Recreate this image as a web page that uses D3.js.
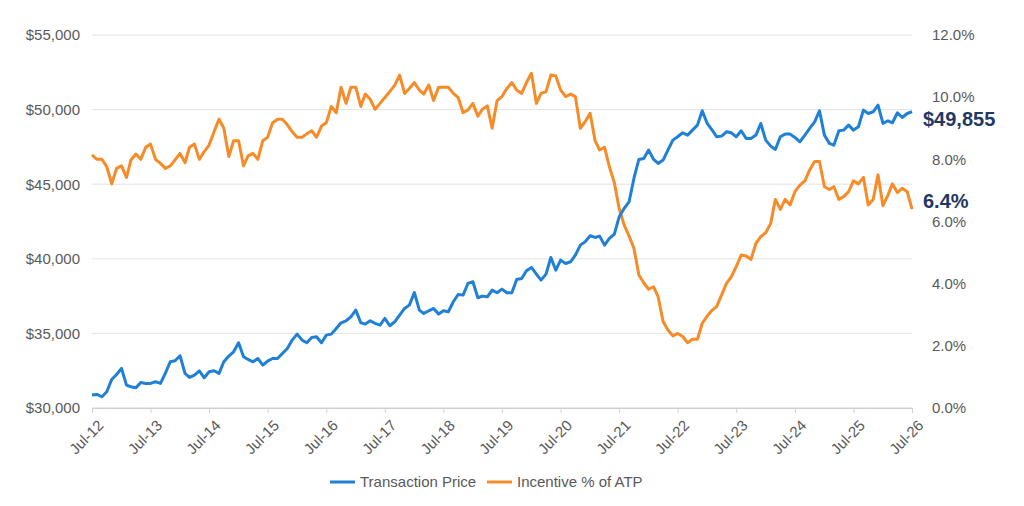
<!DOCTYPE html>
<html>
<head>
<meta charset="utf-8">
<script src="https://cdn.jsdelivr.net/npm/d3@7"></script>
<style>
body { margin: 0; background: #fff; }
text { font-family: Arial, "Liberation Sans", sans-serif; }
</style>
</head>
<body>
<script>
// monthly series, Jul-2012 .. Jul-2026
var atp = [30864,30909,30753,31088,31915,32250,32652,31535,31423,31356,31714,31646,31646,31758,31646,32316,33098,33165,33500,32316,
    32048,32205,32495,32026,32428,32495,32316,33098,33478,33769,34372,33433,33255,33098,33321,32875,33143,33321,33321,33657,
    33992,34550,34952,34550,34372,34729,34774,34372,34885,34952,35332,35712,35846,36114,36561,35712,35623,35846,35668,
    35555,36003,35511,35779,36226,36673,36896,37745,36561,36338,36516,36673,36293,36516,36449,37119,37610,37566,38348,38460,
    37388,37499,37455,37901,37722,37968,37722,37722,38616,38683,39197,39421,38973,38572,38973,40091,39241,39911,39688,39800,
    40247,40917,41141,41543,41431,41521,40917,41364,41655,42816,43375,43822,45385,46659,46726,47284,46659,46391,
    46614,47284,47954,48178,48446,48290,48625,48960,49920,49071,48625,48178,48223,48513,48446,48178,48580,48066,48066,48290,
    49071,47954,47552,47329,48178,48357,48357,48133,47843,48290,48736,49183,49920,48290,47731,47619,48580,48625,48960,48625,
    48848,49965,49741,49853,50300,49071,49250,49116,49786,49473,49741,49855];
var incentive = [8.14,8.00,8.00,7.76,7.21,7.71,7.79,7.42,7.98,8.17,8.00,8.39,8.49,8.00,7.87,7.71,7.79,7.98,8.19,7.89,
    8.39,8.49,8.00,8.25,8.46,8.89,9.29,9.00,8.09,8.60,8.60,7.79,8.11,8.19,8.00,8.60,8.71,9.18,9.29,9.29,
    9.11,8.89,8.71,8.71,8.82,8.92,8.71,9.07,9.18,9.70,9.50,10.32,9.80,10.32,10.32,9.70,10.10,9.93,9.61,
    9.80,9.99,10.18,10.39,10.71,10.12,10.28,10.47,10.23,10.10,10.39,9.89,10.32,10.32,10.32,10.12,9.99,9.50,9.59,9.80,
    9.39,9.61,9.72,9.00,9.89,10.02,10.28,10.47,10.23,10.12,10.47,10.77,9.80,10.12,10.18,10.71,10.68,10.23,10.02,10.10,
    10.02,9.00,9.21,9.48,8.60,8.30,8.39,7.76,7.25,6.42,5.89,5.53,5.14,4.28,4.03,3.82,3.90,3.58,
    2.78,2.51,2.32,2.40,2.30,2.10,2.21,2.21,2.72,2.96,3.15,3.26,3.64,4.01,4.23,4.55,4.92,4.89,4.78,5.30,
    5.51,5.64,5.94,6.71,6.39,6.71,6.53,6.96,7.17,7.31,7.66,7.93,7.93,7.12,7.03,7.12,6.71,6.80,6.96,7.31,
    7.21,7.42,6.53,6.71,7.50,6.51,6.85,7.21,6.93,7.07,6.96,6.4];
var tickYears = [2012, 2013, 2014, 2015, 2016, 2017, 2018, 2019, 2020, 2021, 2022, 2023, 2024, 2025, 2026];
var leftTicks = [30000, 35000, 40000, 45000, 50000, 55000];
var rightTicks = [0, 2, 4, 6, 8, 10, 12];
var seriesNames = ['Transaction Price', 'Incentive % of ATP'];
var colors = ['#1f80d6', '#f68b28'];

var w = 1024, h = 506;
var months = d3.timeMonth.range(new Date(2012, 6, 1), new Date(2012, 6 + atp.length, 1));

var svg = d3.select('body').append('svg').attr('width', w).attr('height', h);

var x = d3.scaleTime().domain([new Date(2012, 6, 1), new Date(2026, 6, 1)]).range([92, 912]);
var yL = d3.scaleLinear().domain([30000, 55000]).range([408, 35]);
var yR = d3.scaleLinear().domain([0, 12]).range([408, 35]);

// gridlines
svg.selectAll('.grid').data(leftTicks).enter().append('line')
    .attr('x1', 92).attr('x2', 912)
    .attr('y1', function(d) { return yL(d); })
    .attr('y2', function(d) { return yL(d); })
    .style('stroke', function(d) { return d === 30000 ? '#d0d0d0' : '#e3e3e3'; })
    .style('stroke-width', 1);

var fmt = d3.format(',');
svg.append('g').attr('transform', 'translate(92,0)')
    .call(d3.axisLeft(yL).tickValues(leftTicks).tickSize(0).tickPadding(12)
        .tickFormat(function(d) { return '$' + fmt(d); }))
    .call(function(g) { g.select('.domain').remove(); });

svg.append('g').attr('transform', 'translate(912,0)')
    .call(d3.axisRight(yR).tickValues(rightTicks).tickSize(0).tickPadding(20)
        .tickFormat(function(d) { return d.toFixed(1) + '%'; }))
    .call(function(g) { g.select('.domain').remove(); });

var xTicks = tickYears.map(function(y) { return new Date(y, 6, 1); });
var xAxis = svg.append('g').attr('transform', 'translate(0,408)')
    .call(d3.axisBottom(x).tickValues(xTicks).tickSize(5).tickFormat(d3.timeFormat('Jul-%y')));
xAxis.select('.domain').style('stroke', '#d0d0d0');
xAxis.selectAll('line').style('stroke', '#d0d0d0');
xAxis.selectAll('text')
    .attr('text-anchor', 'end')
    .attr('dx', '-0.3em').attr('dy', '0.9em')
    .attr('transform', 'rotate(-45)');

svg.selectAll('.tick text').style('font-size', '15px').style('fill', '#595959')
    .style('font-family', 'Arial, "Liberation Sans", sans-serif');

var lineL = d3.line().x(function(d, i) { return x(months[i]); }).y(function(d) { return yL(d); });
var lineR = d3.line().x(function(d, i) { return x(months[i]); }).y(function(d) { return yR(d); });

svg.append('path').datum(incentive).attr('d', lineR)
    .style('fill', 'none').style('stroke', colors[1]).style('stroke-width', 3).style('stroke-linejoin', 'round');
svg.append('path').datum(atp).attr('d', lineL)
    .style('fill', 'none').style('stroke', colors[0]).style('stroke-width', 3).style('stroke-linejoin', 'round');

// end labels
svg.append('text').attr('x', 923).attr('y', yL(atp[atp.length - 1]) + 14)
    .style('font-size', '20px').style('font-weight', 'bold').style('fill', '#1f3864')
    .text('$' + fmt(atp[atp.length - 1]));
svg.append('text').attr('x', 923).attr('y', 208)
    .style('font-size', '20px').style('font-weight', 'bold').style('fill', '#1f3864')
    .text(incentive[incentive.length - 1].toFixed(1) + '%');

// legend
var legendX = [330, 487];
var legend = svg.selectAll('.legend').data(seriesNames).enter().append('g')
    .attr('transform', function(d, i) { return 'translate(' + legendX[i] + ',482)'; });
legend.append('line').attr('x1', 0).attr('x2', 25).attr('y1', 0).attr('y2', 0)
    .style('stroke', function(d, i) { return colors[i]; }).style('stroke-width', 3);
legend.append('text').attr('x', 30).attr('y', 5)
    .style('font-size', '15px').style('fill', '#595959')
    .text(function(d) { return d; });
</script>
</body>
</html>
